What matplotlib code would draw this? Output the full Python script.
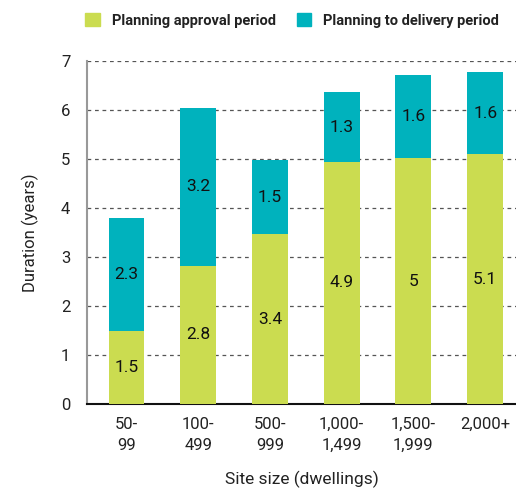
import matplotlib.pyplot as plt
from matplotlib.patches import Patch
import numpy as np

plt.rcParams['font.family'] = ['Roboto', 'DejaVu Sans']

categories = ['50-\n99', '100-\n499', '500-\n999', '1,000-\n1,499', '1,500-\n1,999', '2,000+']
approval = [1.48, 2.82, 3.46, 4.94, 5.02, 5.10]
delivery = [2.32, 3.23, 1.51, 1.42, 1.70, 1.67]
approval_labels = ['1.5', '2.8', '3.4', '4.9', '5', '5.1']
delivery_labels = ['2.3', '3.2', '1.5', '1.3', '1.6', '1.6']

green = '#cbdc50'
teal = '#00b2bd'

fig = plt.figure(figsize=(5.16, 4.93), dpi=100)
ax = fig.add_axes([0.1686, 0.1805, 0.8314, 0.6958])

x = np.arange(len(categories))
ax.bar(x, approval, width=0.5, color=green, zorder=3)
ax.bar(x, delivery, width=0.5, bottom=approval, color=teal, zorder=3)

for i in range(len(x)):
    ax.text(x[i], approval[i] / 2, approval_labels[i], ha='center', va='center',
            fontsize=12.5, color='#111111', zorder=4)
    ax.text(x[i], approval[i] + delivery[i] / 2, delivery_labels[i], ha='center', va='center',
            fontsize=12.5, color='#111111', zorder=4)

ax.set_xlim(-0.55, 5.43)
ax.set_ylim(0, 7)
ax.set_yticks(range(8))
ax.set_xticks(x)
ax.set_xticklabels(categories, fontsize=12, color='#222222', linespacing=1.5)
ax.tick_params(axis='y', length=0, labelsize=12, labelcolor='#222222', pad=12)
ax.tick_params(axis='x', length=0, pad=9)
ax.yaxis.grid(True, linestyle=(0, (3, 3)), color='#555555', linewidth=0.9, zorder=0)

ax.spines['top'].set_visible(False)
ax.spines['right'].set_visible(False)
ax.spines['left'].set_color('#999999')
ax.spines['left'].set_linewidth(1.5)
ax.spines['bottom'].set_color('#111111')
ax.spines['bottom'].set_linewidth(1.5)

ax.set_ylabel('Duration (years)', fontsize=12, color='#222222', labelpad=16)
ax.set_xlabel('Site size (dwellings)', fontsize=12.5, color='#222222', labelpad=13)

handles = [Patch(color=green), Patch(color=teal)]
fig.legend(handles, ['Planning approval period', 'Planning to delivery period'],
           loc='upper left', bbox_to_anchor=(0.14, 1.0), ncol=2, frameon=False,
           handlelength=1.0, handleheight=1.0, handletextpad=0.8, columnspacing=1.45,
           prop={'size': 10.5, 'weight': 'semibold'}, labelcolor='#222222')

fig.savefig('out.png', dpi=100)
